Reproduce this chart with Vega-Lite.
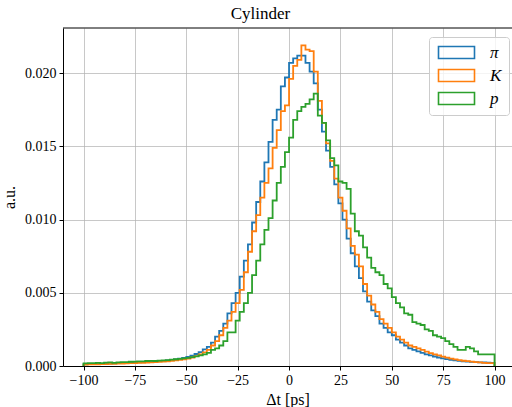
{
"$schema": "https://vega.github.io/schema/vega-lite/v6.json",
"width": 449, "height": 338,
"autosize": {"type": "none"},
"padding": {"left": 63, "top": 28, "right": 0, "bottom": 41},
"background": "white",
"title": {"text": "Cylinder", "font": "Liberation Serif", "fontSize": 17, "fontWeight": "normal", "color": "black", "offset": 5, "dx": -27},
"data": {"values": [
{"i":0,"t":-100,"π":0,"K":0,"p":0},
{"i":1,"t":-100,"π":0.00012,"K":0.00010,"p":0.00018},
{"i":2,"t":-98,"π":0.00013,"K":0.00011,"p":0.00020},
{"i":3,"t":-96,"π":0.00014,"K":0.00011,"p":0.00020},
{"i":4,"t":-94,"π":0.00014,"K":0.00012,"p":0.00022},
{"i":5,"t":-92,"π":0.00015,"K":0.00013,"p":0.00020},
{"i":6,"t":-90,"π":0.00016,"K":0.00013,"p":0.00023},
{"i":7,"t":-88,"π":0.00017,"K":0.00014,"p":0.00025},
{"i":8,"t":-86,"π":0.00018,"K":0.00015,"p":0.00022},
{"i":9,"t":-84,"π":0.00019,"K":0.00016,"p":0.00025},
{"i":10,"t":-82,"π":0.00020,"K":0.00017,"p":0.00027},
{"i":11,"t":-80,"π":0.00021,"K":0.00018,"p":0.00026},
{"i":12,"t":-78,"π":0.00022,"K":0.00019,"p":0.00029},
{"i":13,"t":-76,"π":0.00023,"K":0.00020,"p":0.00030},
{"i":14,"t":-74,"π":0.00025,"K":0.00021,"p":0.00032},
{"i":15,"t":-72,"π":0.00026,"K":0.00022,"p":0.00031},
{"i":16,"t":-70,"π":0.00028,"K":0.00023,"p":0.00034},
{"i":17,"t":-68,"π":0.00030,"K":0.00025,"p":0.00035},
{"i":18,"t":-66,"π":0.00031,"K":0.00026,"p":0.00034},
{"i":19,"t":-64,"π":0.00033,"K":0.00028,"p":0.00037},
{"i":20,"t":-62,"π":0.00035,"K":0.00030,"p":0.00039},
{"i":21,"t":-60,"π":0.00038,"K":0.00032,"p":0.00040},
{"i":22,"t":-58,"π":0.00041,"K":0.00035,"p":0.00043},
{"i":23,"t":-56,"π":0.00045,"K":0.00038,"p":0.00046},
{"i":24,"t":-54,"π":0.00050,"K":0.00042,"p":0.00049},
{"i":25,"t":-52,"π":0.00055,"K":0.00046,"p":0.00052},
{"i":26,"t":-50,"π":0.00062,"K":0.00050,"p":0.00055},
{"i":27,"t":-48,"π":0.00070,"K":0.00058,"p":0.00060},
{"i":28,"t":-46,"π":0.00082,"K":0.00068,"p":0.00066},
{"i":29,"t":-44,"π":0.00095,"K":0.00080,"p":0.00072},
{"i":30,"t":-42,"π":0.00114,"K":0.00093,"p":0.00080},
{"i":31,"t":-40,"π":0.00130,"K":0.00110,"p":0.00090},
{"i":32,"t":-38,"π":0.00160,"K":0.00140,"p":0.00110},
{"i":33,"t":-36,"π":0.00200,"K":0.00170,"p":0.00120},
{"i":34,"t":-34,"π":0.00240,"K":0.00210,"p":0.00140},
{"i":35,"t":-32,"π":0.00290,"K":0.00260,"p":0.00170},
{"i":36,"t":-30,"π":0.00360,"K":0.00310,"p":0.00230},
{"i":37,"t":-28,"π":0.00430,"K":0.00370,"p":0.00230},
{"i":38,"t":-26,"π":0.00500,"K":0.00430,"p":0.00310},
{"i":39,"t":-24,"π":0.00610,"K":0.00520,"p":0.00370},
{"i":40,"t":-22,"π":0.00720,"K":0.00640,"p":0.00430},
{"i":41,"t":-20,"π":0.00830,"K":0.00780,"p":0.00500},
{"i":42,"t":-18,"π":0.00980,"K":0.00920,"p":0.00620},
{"i":43,"t":-16,"π":0.01120,"K":0.01030,"p":0.00720},
{"i":44,"t":-14,"π":0.01260,"K":0.01150,"p":0.00830},
{"i":45,"t":-12,"π":0.01390,"K":0.01250,"p":0.00930},
{"i":46,"t":-10,"π":0.01530,"K":0.01350,"p":0.01010},
{"i":47,"t":-8,"π":0.01680,"K":0.01490,"p":0.01130},
{"i":48,"t":-6,"π":0.01750,"K":0.01610,"p":0.01250},
{"i":49,"t":-4,"π":0.01910,"K":0.01740,"p":0.01360},
{"i":50,"t":-2,"π":0.01970,"K":0.01780,"p":0.01460},
{"i":51,"t":0,"π":0.02070,"K":0.01960,"p":0.01560},
{"i":52,"t":2,"π":0.02100,"K":0.02050,"p":0.01680},
{"i":53,"t":4,"π":0.02120,"K":0.02090,"p":0.01740},
{"i":54,"t":6,"π":0.02120,"K":0.02190,"p":0.01770},
{"i":55,"t":8,"π":0.02070,"K":0.02160,"p":0.01790},
{"i":56,"t":10,"π":0.02010,"K":0.02150,"p":0.01820},
{"i":57,"t":12,"π":0.01930,"K":0.02010,"p":0.01860},
{"i":58,"t":14,"π":0.01750,"K":0.01810,"p":0.01710},
{"i":59,"t":16,"π":0.01600,"K":0.01660,"p":0.01660},
{"i":60,"t":18,"π":0.01470,"K":0.01520,"p":0.01540},
{"i":61,"t":20,"π":0.01360,"K":0.01400,"p":0.01420},
{"i":62,"t":22,"π":0.01240,"K":0.01280,"p":0.01370},
{"i":63,"t":24,"π":0.01110,"K":0.01150,"p":0.01260},
{"i":64,"t":26,"π":0.01000,"K":0.01060,"p":0.01250},
{"i":65,"t":28,"π":0.00870,"K":0.00940,"p":0.01210},
{"i":66,"t":30,"π":0.00770,"K":0.00820,"p":0.01040},
{"i":67,"t":32,"π":0.00680,"K":0.00760,"p":0.00920},
{"i":68,"t":34,"π":0.00600,"K":0.00680,"p":0.00890},
{"i":69,"t":36,"π":0.00510,"K":0.00560,"p":0.00810},
{"i":70,"t":38,"π":0.00440,"K":0.00480,"p":0.00740},
{"i":71,"t":40,"π":0.00380,"K":0.00420,"p":0.00670},
{"i":72,"t":42,"π":0.00340,"K":0.00370,"p":0.00640},
{"i":73,"t":44,"π":0.00290,"K":0.00320,"p":0.00620},
{"i":74,"t":46,"π":0.00260,"K":0.00290,"p":0.00560},
{"i":75,"t":48,"π":0.00230,"K":0.00260,"p":0.00530},
{"i":76,"t":50,"π":0.00210,"K":0.00230,"p":0.00470},
{"i":77,"t":52,"π":0.00180,"K":0.00200,"p":0.00430},
{"i":78,"t":54,"π":0.00160,"K":0.00180,"p":0.00400},
{"i":79,"t":56,"π":0.00140,"K":0.00160,"p":0.00360},
{"i":80,"t":58,"π":0.00120,"K":0.00140,"p":0.00350},
{"i":81,"t":60,"π":0.00110,"K":0.00130,"p":0.00300},
{"i":82,"t":62,"π":0.00100,"K":0.00120,"p":0.00290},
{"i":83,"t":64,"π":0.00090,"K":0.00110,"p":0.00280},
{"i":84,"t":66,"π":0.00080,"K":0.00098,"p":0.00250},
{"i":85,"t":68,"π":0.00072,"K":0.00088,"p":0.00240},
{"i":86,"t":70,"π":0.00065,"K":0.00080,"p":0.00210},
{"i":87,"t":72,"π":0.00058,"K":0.00072,"p":0.00200},
{"i":88,"t":74,"π":0.00052,"K":0.00064,"p":0.00190},
{"i":89,"t":76,"π":0.00047,"K":0.00057,"p":0.00170},
{"i":90,"t":78,"π":0.00042,"K":0.00050,"p":0.00150},
{"i":91,"t":80,"π":0.00038,"K":0.00045,"p":0.00130},
{"i":92,"t":82,"π":0.00035,"K":0.00040,"p":0.00110},
{"i":93,"t":84,"π":0.00032,"K":0.00036,"p":0.00110},
{"i":94,"t":86,"π":0.00030,"K":0.00033,"p":0.00130},
{"i":95,"t":88,"π":0.00028,"K":0.00030,"p":0.00120},
{"i":96,"t":90,"π":0.00026,"K":0.00027,"p":0.00100},
{"i":97,"t":92,"π":0.00025,"K":0.00025,"p":0.00080},
{"i":98,"t":94,"π":0.00024,"K":0.00022,"p":0.00080},
{"i":99,"t":96,"π":0.00023,"K":0.00020,"p":0.00080},
{"i":100,"t":98,"π":0.00022,"K":0.00020,"p":0.00080},
{"i":101,"t":100,"π":0.00022,"K":0.00020,"p":0.00080},
{"i":102,"t":100,"π":0,"K":0,"p":0}
]},
"layer": [
{"transform": [{"fold": ["π", "K", "p"], "as": ["s", "v"]}],
 "mark": {"type": "line", "interpolate": "step-after", "strokeWidth": 1.8},
 "encoding": {
  "x": {"field": "t", "type": "quantitative", "scale": {"domain": [-110, 108.5], "nice": false, "zero": false},
        "axis": {"values": [-100, -75, -50, -25, 0, 25, 50, 75, 100], "title": "Δt [ps]", "titlePadding": 4, "labelFlush": false}},
  "y": {"field": "v", "type": "quantitative", "scale": {"domain": [0, 0.02308], "nice": false},
        "axis": {"values": [0, 0.005, 0.01, 0.015, 0.02], "format": ".3f", "title": "a.u.", "titlePadding": 7}},
  "color": {"field": "s", "type": "nominal", "scale": {"domain": ["π", "K", "p"], "range": ["#1f77b4", "#ff7f0e", "#2ca02c"]},
        "legend": {"orient": "none", "legendX": 366, "legendY": 9, "title": null,
                   "symbolType": "M-3,-1H3V1H-3Z", "symbolSize": 144, "symbolStrokeWidth": 1.6, "symbolFillColor": "transparent",
                   "symbolOffset": 12,
                   "labelFont": "Liberation Serif", "labelFontStyle": "italic", "labelFontSize": 17, "labelColor": "black", "labelOffset": 25,
                   "labelExpr": "datum.label + '  '",
                   "padding": 7, "rowPadding": 4, "fillColor": "rgba(255,255,255,0.8)", "strokeColor": "#cccccc", "cornerRadius": 3}},
  "order": {"field": "i", "type": "quantitative"}
 }},
{"data": {"values": [{}]},
 "mark": {"type": "rule", "color": "black", "strokeWidth": 1},
 "encoding": {"y": {"datum": 0.02308}}}
],
"config": {
 "view": {"stroke": null},
 "axis": {"domainColor": "black", "domainWidth": 1, "tickColor": "black", "tickSize": 4, "tickWidth": 1,
          "labelFont": "Liberation Serif", "labelFontSize": 14, "labelColor": "black", "labelPadding": 3,
          "titleFont": "Liberation Serif", "titleFontSize": 16, "titleFontWeight": "normal", "titleColor": "black",
          "gridColor": "#b0b0b0", "gridOpacity": 0.7, "gridWidth": 1}
}
}
